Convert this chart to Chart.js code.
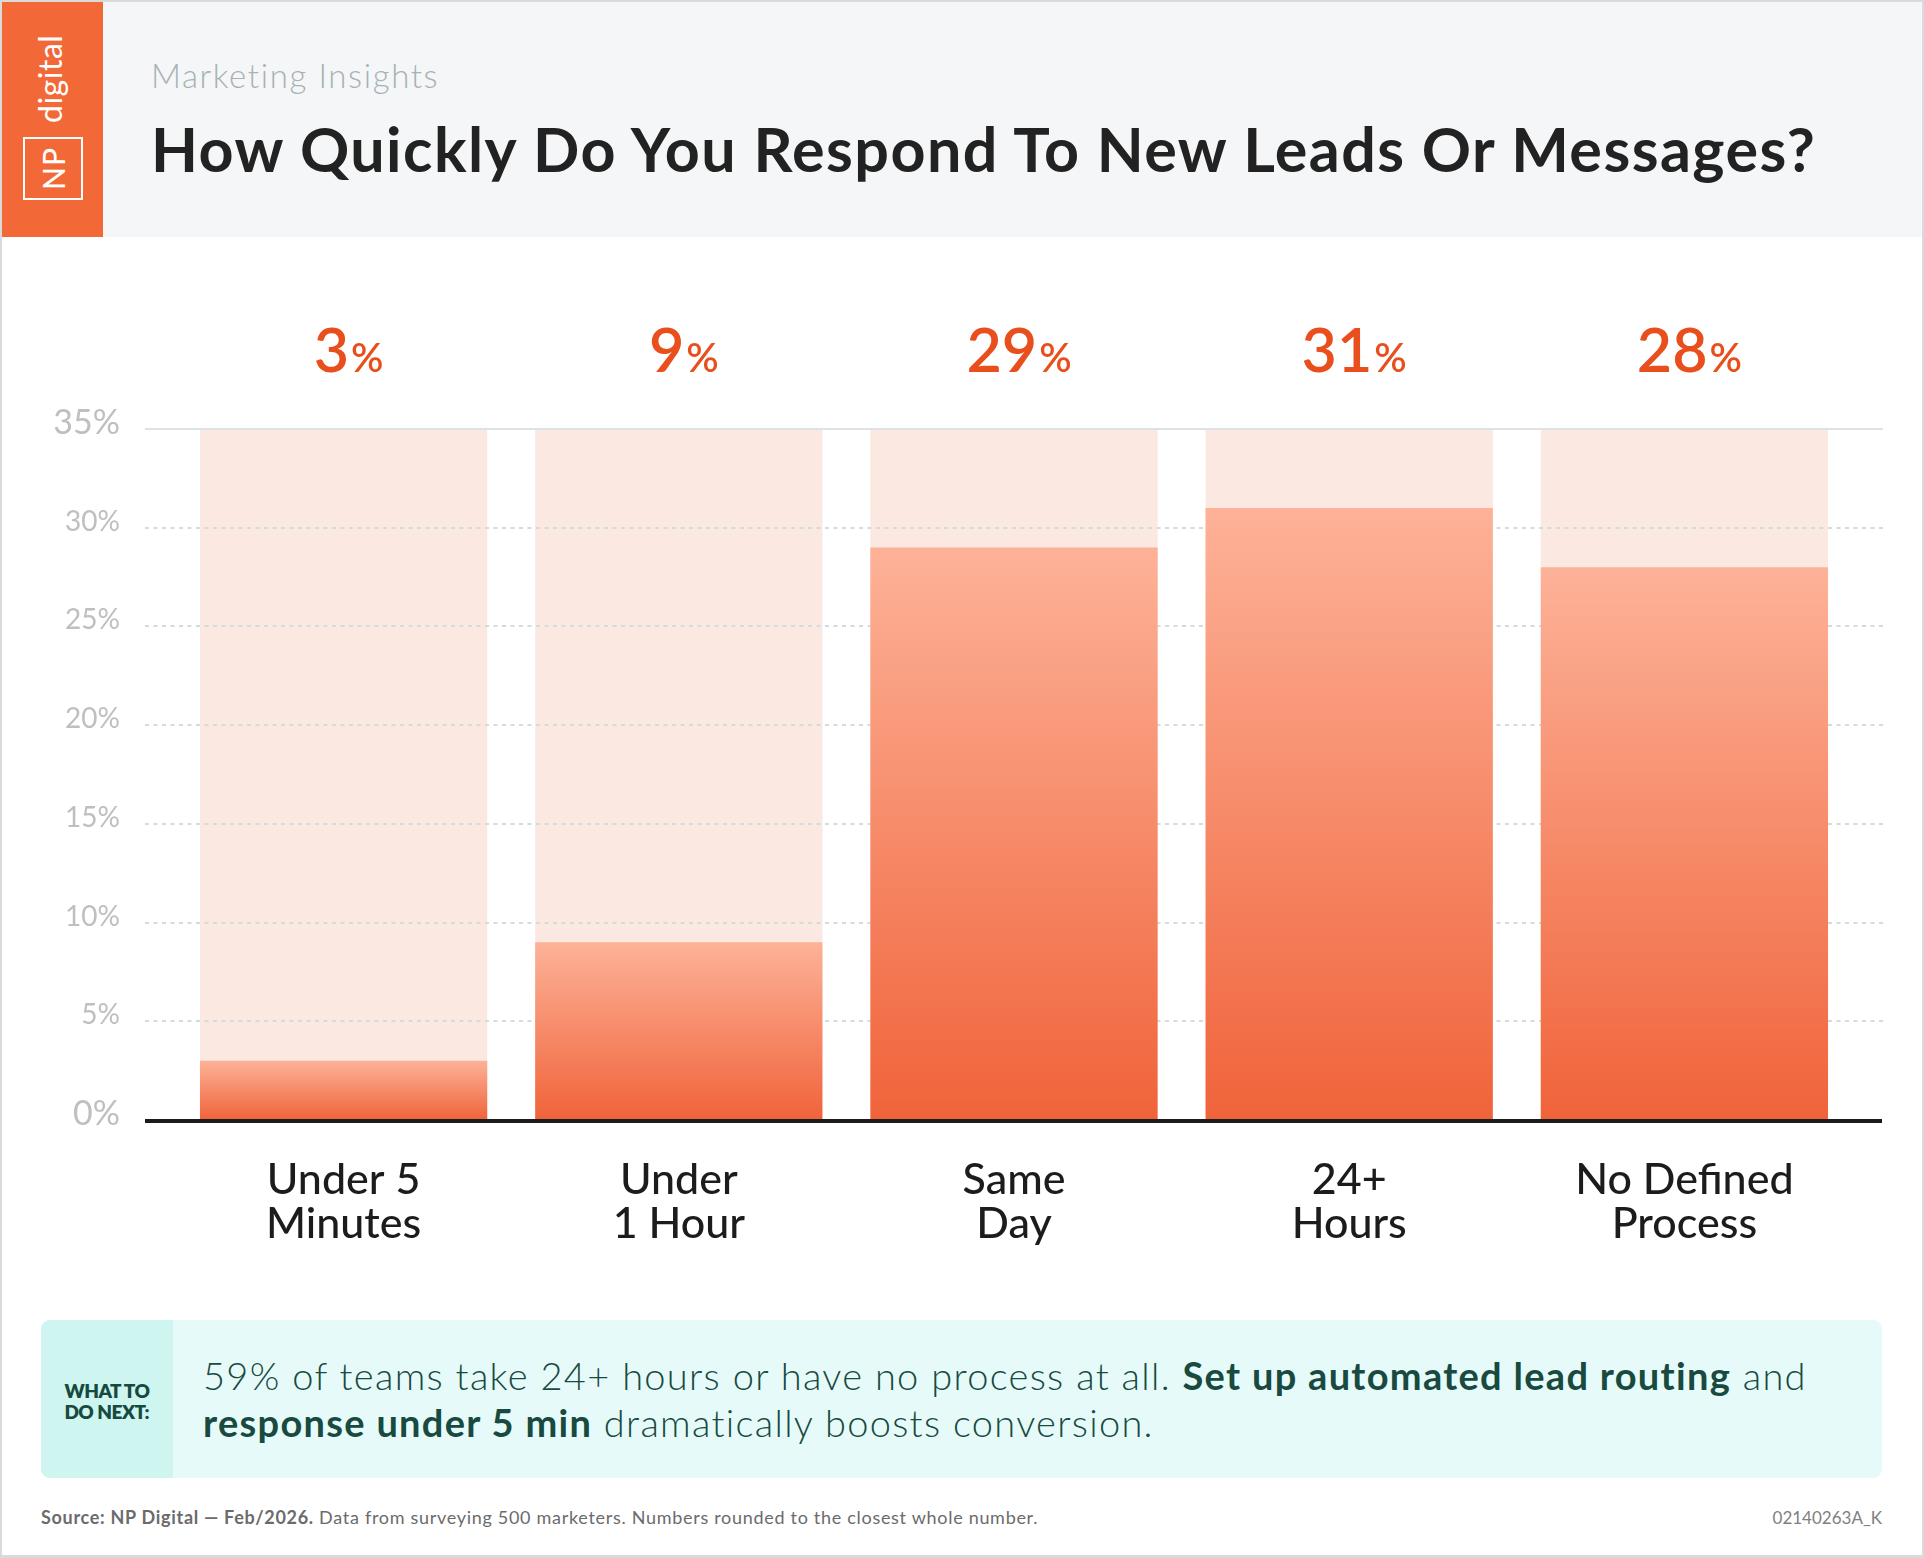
<!DOCTYPE html>
<html>
<head>
<meta charset="utf-8">
<title>How Quickly Do You Respond To New Leads Or Messages?</title>
<script src="https://cdn.jsdelivr.net/npm/chart.js@4.4.1/dist/chart.umd.min.js"></script>
<style>
  html, body { margin: 0; padding: 0; background: #fff; }
  body { width: 1924px; height: 1558px; position: relative; overflow: hidden; font-family: Lato, "Open Sans", sans-serif; }
  #frame { position: absolute; left: 0; top: 0; width: 1924px; height: 1558px; box-sizing: border-box; border: 2px solid #dadada; border-bottom-width: 3px; }
  #header { position: absolute; left: 2px; top: 2px; width: 1920px; height: 235px; background: #f5f6f8; }
  #logo { position: absolute; left: 2px; top: 2px; width: 101px; height: 235px; background: #f26836; overflow: hidden; }
  #logoInner { position: absolute; left: -67px; top: 67px; width: 235px; height: 101px; transform: rotate(-90deg);
    display: flex; align-items: center; padding-left: 37px; box-sizing: border-box; color: #fff; }
  #npBox { width: 63px; height: 60px; box-sizing: border-box; border: 2.5px solid #fff; display: flex; align-items: center; justify-content: center;
    font-size: 30px; font-weight: 500; letter-spacing: 1px; }
  #digital { margin-left: 14px; font-size: 32px; font-weight: 400; line-height: 1; margin-top: -5px; letter-spacing: 0.5px; }
  #kicker { position: absolute; left: 151px; top: 55px; font-size: 33px; font-weight: 300; color: #a6b2b5; letter-spacing: 1.6px; }
  #title { position: absolute; left: 151px; top: 112px; font-size: 61px; font-weight: 700; color: #222; white-space: nowrap; letter-spacing: 1.45px; }
  #chart { position: absolute; left: 0; top: 240px; }
  #callout { position: absolute; left: 41px; top: 1320px; width: 1841px; height: 158px; background: #e6fbf9; border-radius: 9px; overflow: hidden; }
  #calloutTag { position: absolute; left: 0; top: 0; width: 132px; height: 158px; background: #cef5f0; display: flex; align-items: center; justify-content: center;
    font-size: 19px; font-weight: 800; color: #164a3f; line-height: 21px; letter-spacing: -0.5px; text-align: left; padding-top: 4px; box-sizing: border-box; }
  #calloutText { position: absolute; left: 162px; top: 32px; font-size: 38px; line-height: 47px; font-weight: 300; color: #184a3f; white-space: nowrap; letter-spacing: 1.3px; }
  #calloutText b { font-weight: 700; }
  #source { position: absolute; left: 41px; top: 1506px; font-size: 18px; color: #6b6b6b; white-space: nowrap; letter-spacing: 0.7px; }
  #source b { font-weight: 700; }
  #code { position: absolute; right: 42px; top: 1507px; font-size: 17px; color: #808080; }
</style>
</head>
<body>
<div id="frame"></div>
<div id="header"></div>
<div id="logo"><div id="logoInner"><div id="npBox">NP</div><div id="digital">digital</div></div></div>
<div id="kicker">Marketing Insights</div>
<div id="title">How Quickly Do You Respond To New Leads Or Messages?</div>
<canvas id="chart" width="1924" height="1060"></canvas>
<div id="callout">
  <div id="calloutTag">WHAT TO<br>DO NEXT:</div>
  <div id="calloutText">59% of teams take 24+ hours or have no process at all. <b>Set up automated lead routing</b> and<br><b>response under 5 min</b> dramatically boosts conversion.</div>
</div>
<div id="source"><b>Source: NP Digital — Feb/2026.</b> Data from surveying 500 marketers. Numbers rounded to the closest whole number.</div>
<div id="code">02140263A_K</div>
<script>
// data
const categories = [['Under 5', 'Minutes'], ['Under', '1 Hour'], ['Same', 'Day'], ['24+', 'Hours'], ['No Defined', 'Process']];
const responseShare = [3, 9, 29, 31, 28];
const axisMax = 35;
const tickStep = 5;
const trackValues = categories.map(() => axisMax);

const FONT = 'Lato, "Open Sans", sans-serif';

function barGradient(context) {
    const chart = context.chart;
    const area = chart.chartArea;
    if (!area || context.raw == null) return '#f6855e';
    const y = chart.scales.y;
    const top = y.getPixelForValue(context.raw);
    const base = y.getPixelForValue(0);
    const g = chart.ctx.createLinearGradient(0, top, 0, base);
    g.addColorStop(0, '#fdb298');
    g.addColorStop(1, '#f0633a');
    return g;
}

// grid lines sit between the pale track bars and the orange bars
const gridPlugin = {
    id: 'gridBehind',
    afterDatasetDraw(chart, args) {
        if (args.index !== 1) return;
        const ctx = chart.ctx, y = chart.scales.y, area = chart.chartArea;
        ctx.save();
        y.ticks.forEach(t => {
            if (t.value === 0) return;
            const py = Math.round(y.getPixelForValue(t.value));
            ctx.beginPath();
            if (t.value === axisMax) {
                ctx.setLineDash([]);
                ctx.strokeStyle = '#dde3e5';
            } else {
                ctx.setLineDash([4, 4.5]);
                ctx.strokeStyle = '#d2dbde';
            }
            ctx.lineWidth = 2;
            ctx.moveTo(area.left - 31, py);
            ctx.lineTo(area.right + 31, py);
            ctx.stroke();
        });
        ctx.restore();
    }
};

const axisAndLabels = {
    id: 'axisAndLabels',
    afterDatasetsDraw(chart) {
        const ctx = chart.ctx, y = chart.scales.y, area = chart.chartArea;
        ctx.save();
        // baseline
        const y0 = y.getPixelForValue(0) + 1;
        ctx.strokeStyle = '#1b1b1b';
        ctx.lineWidth = 4;
        ctx.beginPath();
        ctx.moveTo(area.left - 31, y0);
        ctx.lineTo(area.right + 30, y0);
        ctx.stroke();

        // value labels above the plot
        const meta = chart.getDatasetMeta(0);
        ctx.fillStyle = '#e84f1d';
        ctx.textBaseline = 'alphabetic';
        ctx.textAlign = 'left';
        meta.data.forEach((bar, i) => {
            const num = String(responseShare[i]);
            ctx.font = '600 61px ' + FONT;
            const w1 = ctx.measureText(num).width;
            ctx.font = '600 40px ' + FONT;
            const w2 = ctx.measureText('%').width;
            const x0 = bar.x + 5 - (w1 + w2 + 2) / 2;
            const by = area.top - 57;
            ctx.font = '600 61px ' + FONT;
            ctx.fillText(num, x0, by);
            ctx.font = '600 40px ' + FONT;
            ctx.fillText('%', x0 + w1 + 2, by);
        });
        ctx.restore();
    }
};

new Chart(document.getElementById('chart'), {
    type: 'bar',
    data: {
        labels: categories,
        datasets: [
            {
                label: 'Share of respondents',
                data: responseShare,
                backgroundColor: barGradient,
                grouped: false,
                categoryPercentage: 1,
                barPercentage: 0.857,
                borderWidth: 0
            },
            {
                label: 'Track',
                data: trackValues,
                backgroundColor: '#fbe8e1',
                grouped: false,
                categoryPercentage: 1,
                barPercentage: 0.857,
                borderWidth: 0
            }
        ]
    },
    options: {
        responsive: false,
        animation: false,
        devicePixelRatio: 1,
        layout: { padding: { top: 189, right: 72, left: 0, bottom: 0 } },
        plugins: { legend: { display: false }, tooltip: { enabled: false } },
        scales: {
            x: {
                grid: { display: false },
                border: { display: false },
                ticks: {
                    color: '#1c1c1c',
                    padding: 30,
                    font: { family: FONT, size: 43, weight: '500', lineHeight: 1.03 },
                    maxRotation: 0,
                    autoSkip: false
                },
                afterFit(scale) { scale.height = 180; }
            },
            y: {
                min: 0,
                max: axisMax,
                grid: { display: false },
                border: { display: false },
                ticks: {
                    stepSize: tickStep,
                    padding: 48,
                    labelOffset: -6,
                    color: '#bfbfbf',
                    callback: v => v + '%',
                    font: ctx => {
                        const edge = ctx.tick && (ctx.tick.value === 0 || ctx.tick.value === axisMax);
                        return { family: FONT, size: edge ? 34 : 28, weight: '400' };
                    }
                },
                afterFit(scale) { scale.width = 176; }
            }
        }
    },
    plugins: [gridPlugin, axisAndLabels]
});
</script>
</body>
</html>
